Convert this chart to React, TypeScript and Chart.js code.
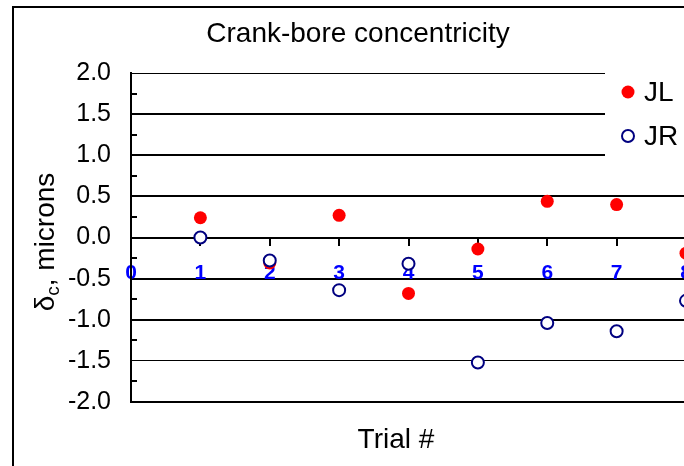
import React, { useEffect, useRef } from 'react';
import { Chart, registerables } from 'chart.js';

Chart.register(...registerables);

const chartTitle = 'Crank-bore concentricity';
const xTitle = 'Trial #';
const yTitleMain = 'δ';
const yTitleSub = 'c';
const yTitleRest = ', microns';
const seriesLabels = ['JL', 'JR'];
const trials = [1, 2, 3, 4, 5, 6, 7, 8];
const jlValues = [0.24, -0.31, 0.27, -0.68, -0.14, 0.44, 0.4, -0.19];
const jrValues = [0.0, -0.28, -0.64, -0.32, -1.52, -1.04, -1.14, -0.77];
const xTicks = [0, 1, 2, 3, 4, 5, 6, 7, 8];
const yTicks = [-2.0, -1.5, -1.0, -0.5, 0.0, 0.5, 1.0, 1.5, 2.0];
const yMinorTicks = [-1.75, -1.25, -0.75, -0.25, 0.25, 0.75, 1.25, 1.75];

const FONT = '"Liberation Sans", Arial, sans-serif';

const decorPlugin = {
  id: 'decor',
  beforeDraw(chart: any) {
    const { ctx } = chart;
    ctx.save();
    ctx.fillStyle = '#ffffff';
    ctx.fillRect(0, 0, chart.width, chart.height);
    ctx.strokeStyle = '#000000';
    ctx.lineWidth = 2;
    ctx.beginPath();
    ctx.moveTo(13, chart.height + 5);
    ctx.lineTo(13, 7);
    ctx.lineTo(chart.width + 5, 7);
    ctx.stroke();
    ctx.restore();
  },
  afterDatasetsDraw(chart: any) {
    const { ctx } = chart;
    ctx.save();
    ctx.fillStyle = '#ffffff';
    ctx.fillRect(605, 62, 200, 104);
    chart.data.datasets.forEach((ds: any, i: number) => {
      const cy = 92 + i * 44;
      const cx = 628;
      ctx.beginPath();
      ctx.arc(cx, cy, ds.pointRadius, 0, Math.PI * 2);
      ctx.fillStyle = ds.backgroundColor;
      ctx.fill();
      if (ds.borderWidth > 0) {
        ctx.lineWidth = ds.borderWidth;
        ctx.strokeStyle = ds.borderColor;
        ctx.stroke();
      }
      ctx.fillStyle = '#000000';
      ctx.font = `28px ${FONT}`;
      ctx.textBaseline = 'middle';
      ctx.textAlign = 'left';
      ctx.fillText(ds.label, 644, cy + 1);
    });
    ctx.restore();
  },
  afterDraw(chart: any) {
    const { ctx } = chart;
    const yScale = chart.scales.y;
    const left = chart.chartArea.left;
    ctx.save();
    ctx.strokeStyle = '#000000';
    ctx.lineWidth = 2;
    yMinorTicks.forEach((v) => {
      const py = Math.round(yScale.getPixelForValue(v));
      ctx.beginPath();
      ctx.moveTo(left, py);
      ctx.lineTo(left + 6, py);
      ctx.stroke();
    });
    // title
    ctx.fillStyle = '#000000';
    ctx.font = `28px ${FONT}`;
    ctx.textAlign = 'center';
    ctx.textBaseline = 'middle';
    ctx.fillText(chartTitle, 358, 34);
    // x title
    ctx.fillText(xTitle, 396, 440);
    // y title
    ctx.translate(44, 242);
    ctx.rotate(-Math.PI / 2);
    ctx.textAlign = 'left';
    ctx.textBaseline = 'alphabetic';
    const big = `28px ${FONT}`;
    const small = `19px ${FONT}`;
    ctx.font = big;
    const w1 = ctx.measureText(yTitleMain).width;
    const w3 = ctx.measureText(yTitleRest).width;
    ctx.font = small;
    const w2 = ctx.measureText(yTitleSub).width;
    let x = -(w1 + w2 + w3) / 2;
    const base = 10;
    ctx.font = big;
    ctx.fillText(yTitleMain, x, base);
    x += w1;
    ctx.font = small;
    ctx.fillText(yTitleSub, x, base + 5);
    x += w2;
    ctx.font = big;
    ctx.fillText(yTitleRest, x, base);
    ctx.restore();
  },
};

export default function App() {
  const ref = useRef<HTMLCanvasElement | null>(null);
  useEffect(() => {
    if (!ref.current) return;
    const chart = new Chart(ref.current, {
      type: 'scatter',
      data: {
        datasets: [
          {
            label: seriesLabels[0],
            data: trials.map((t, i) => ({ x: t, y: jlValues[i] })),
            backgroundColor: '#ff0000',
            borderColor: '#ff0000',
            borderWidth: 0,
            pointRadius: 6.5,
            pointHoverRadius: 6.5,
            order: 2,
            clip: false,
          } as any,
          {
            label: seriesLabels[1],
            data: trials.map((t, i) => ({ x: t, y: jrValues[i] })),
            backgroundColor: '#ffffff',
            borderColor: '#000080',
            borderWidth: 2,
            pointRadius: 6,
            pointHoverRadius: 6,
            order: 1,
            clip: false,
          } as any,
        ],
      },
      options: {
        animation: false,
        responsive: false,
        devicePixelRatio: 1,
        layout: { padding: { left: 0, top: 73, right: 34, bottom: 64 } },
        plugins: {
          legend: { display: false },
          title: { display: false },
          tooltip: { enabled: false },
        },
        scales: {
          x: {
            type: 'linear',
            position: { y: 0 } as any,
            min: 0,
            max: 8,
            afterBuildTicks: (scale: any) => {
              scale.ticks = xTicks.map((v) => ({ value: v }));
            },
            afterFit: (scale: any) => {
              scale.height = 0;
            },
            grid: {
              drawOnChartArea: false,
              drawTicks: true,
              tickLength: 7,
              color: '#000000',
              lineWidth: 2,
            },
            border: { display: true, color: '#000000', width: 2 },
            ticks: {
              color: '#0000ff',
              font: { family: FONT, size: 21, weight: 'bold' },
              padding: 16,
              maxRotation: 0,
              autoSkip: false,
            },
          },
          y: {
            type: 'linear',
            min: -2,
            max: 2,
            afterBuildTicks: (scale: any) => {
              scale.ticks = yTicks.map((v) => ({ value: v }));
            },
            afterFit: (scale: any) => {
              scale.width = 131;
            },
            grid: {
              drawTicks: false,
              color: '#000000',
              lineWidth: (c: any) => (c.tick && (c.tick.value === 2 || c.tick.value === -1.5) ? 1 : 2),
            },
            border: { display: true, color: '#000000', width: 2 },
            ticks: {
              color: '#000000',
              font: { family: FONT, size: 25 },
              padding: 20,
              callback: (v: any) => Number(v).toFixed(1),
            },
          },
        },
      } as any,
      plugins: [decorPlugin],
    });
    return () => chart.destroy();
  }, []);

  return (
    <div style={{ position: 'fixed', left: 0, top: 0, width: 684, height: 466, overflow: 'hidden', background: '#fff' }}>
      <canvas ref={ref} width={720} height={466} style={{ display: 'block' }} />
    </div>
  );
}
